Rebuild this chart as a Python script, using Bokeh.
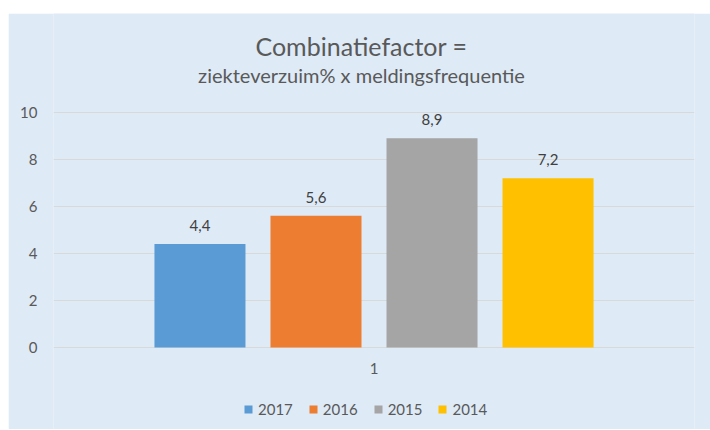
from bokeh.plotting import figure
from bokeh.models import (FactorRange, Range1d, Legend, LegendItem, Label,
                          ColumnDataSource, FixedTicker, Spacer)
from bokeh.transform import dodge
from bokeh.layouts import column, row
from bokeh.core.properties import value
from bokeh.embed import file_html
from bokeh.resources import INLINE

# ---- data ----
category = ["1"]
years = ["2017", "2016", "2015", "2014"]
values = [4.4, 5.6, 8.9, 7.2]
value_labels = ["4,4", "5,6", "8,9", "7,2"]
colors = ["#5B9BD5", "#ED7D31", "#A5A5A5", "#FFC000"]
y_ticks = [0, 2, 4, 6, 8, 10]
title_text = "Combinatiefactor ="
subtitle_text = "ziekteverzuim% x meldingsfrequentie"

FONT = "Lato"
BG = "#DEEAF6"
TXT = "#595959"

# frame spans the whole chart height; the value axis 0..10 sits in its middle
p = figure(width=702, height=416,
           x_range=FactorRange(*category), y_range=Range1d(-3.49, 14.21),
           output_backend="svg", toolbar_location=None,
           background_fill_color=BG, border_fill_color=BG,
           outline_line_color=None,
           min_border_left=45, min_border_right=16,
           min_border_bottom=0, min_border_top=0)

p.add_layout(Label(x=308, y=384, x_units="screen", y_units="screen",
                   text=title_text, text_align="center", text_baseline="middle",
                   text_font=FONT, text_font_size="25px", text_color=TXT))
p.add_layout(Label(x=308, y=355, x_units="screen", y_units="screen",
                   text=subtitle_text, text_align="center", text_baseline="middle",
                   text_font=FONT, text_font_size="20px", text_color=TXT))

step = 0.181
bar_w = 0.142
items = []
for i, yr in enumerate(years):
    src = ColumnDataSource(dict(x=category, top=[values[i]], lab=[value_labels[i]]))
    off = (i - (len(years) - 1) / 2) * step
    r = p.vbar(x=dodge("x", off, range=p.x_range), top="top", width=bar_w,
               source=src, fill_color=colors[i], line_color=None)
    p.text(x=dodge("x", off, range=p.x_range), y="top", text="lab", source=src,
           text_align="center", text_baseline="bottom", y_offset=-13,
           text_font=value(FONT), text_font_size="15px", text_color="#404040")
    items.append(LegendItem(label=yr, renderers=[r]))

# category label under the value axis
cat_src = ColumnDataSource(dict(x=category, y=[0] * len(category), t=category))
p.text(x="x", y="y", text="t", source=cat_src, text_align="center",
       text_baseline="middle", y_offset=21,
       text_font=value(FONT), text_font_size="15px", text_color=TXT)

legend = Legend(items=items, orientation="horizontal", location=(190, 11),
                background_fill_alpha=0, border_line_color=None,
                padding=0, margin=0, spacing=15,
                glyph_width=10, glyph_height=10, label_standoff=5,
                label_text_font=FONT, label_text_font_size="15px",
                label_text_color=TXT)
p.add_layout(legend)

p.xaxis.visible = False
p.xgrid.grid_line_color = None
p.ygrid.ticker = FixedTicker(ticks=y_ticks)
p.ygrid.grid_line_color = "#D9D9D9"
p.ygrid.grid_line_width = 1

p.yaxis.ticker = FixedTicker(ticks=y_ticks)
p.yaxis.axis_line_color = None
p.yaxis.major_tick_line_color = None
p.yaxis.minor_tick_line_color = None
p.yaxis.major_label_text_font = FONT
p.yaxis.major_label_text_font_size = "15px"
p.yaxis.major_label_text_color = TXT
p.yaxis.major_label_standoff = 10

layout = row(Spacer(width=8, height=10), column(Spacer(width=702, height=13), p))
open("out.html", "w").write(file_html(layout, INLINE))
